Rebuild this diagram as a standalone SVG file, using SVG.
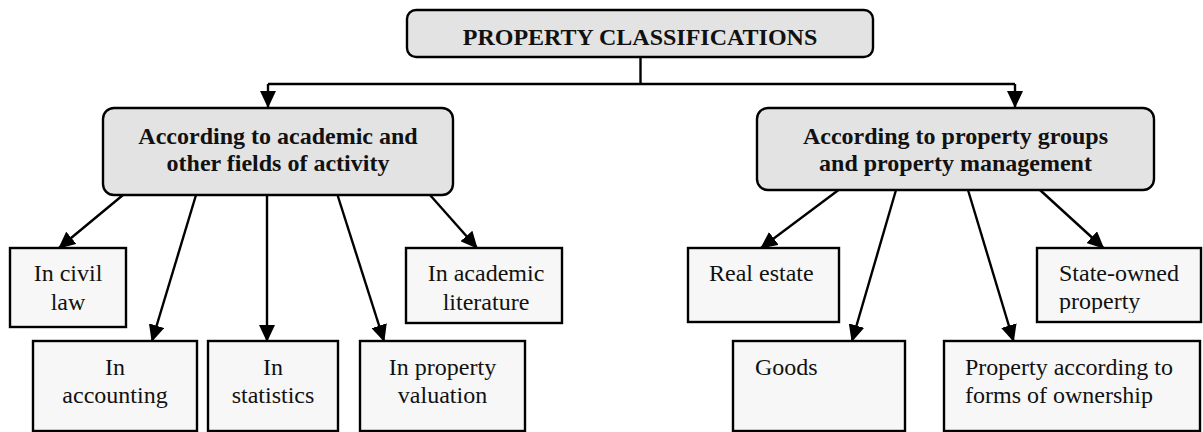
<svg xmlns="http://www.w3.org/2000/svg" width="1203" height="432" viewBox="0 0 1203 432">
<style>
.hdr{fill:#e3e3e3;stroke:#000;stroke-width:2.4}
.leaf{fill:#f7f7f7;stroke:#000;stroke-width:2.4}
.b{font-family:"Liberation Serif","Times New Roman",serif;font-weight:bold;font-size:24px;fill:#111;text-anchor:middle}
.r{font-family:"Liberation Serif","Times New Roman",serif;font-size:24px;fill:#111}
.c{text-anchor:middle}
.ln{fill:none;stroke:#000;stroke-width:2.4}
</style>
<defs>
<marker id="ah" markerUnits="userSpaceOnUse" markerWidth="17" markerHeight="16" refX="16" refY="8" orient="auto">
<path d="M0,0 L17,8 L0,16 Z" fill="#000"/>
</marker>
<clipPath id="stclip"><rect x="1037" y="248" width="164" height="65"/></clipPath>
</defs>
<rect width="1203" height="432" fill="#fff"/>

<g id="connectors">
<polyline class="ln" points="640.5,57 640.5,84"/>
<polyline class="ln" points="268,84 1015,84"/>
<line class="ln" x1="268" y1="84" x2="268" y2="107" marker-end="url(#ah)"/>
<line class="ln" x1="1015" y1="84" x2="1015" y2="107" marker-end="url(#ah)"/>
<line class="ln" x1="123" y1="195" x2="59" y2="248" marker-end="url(#ah)"/>
<line class="ln" x1="196" y1="195" x2="152" y2="341" marker-end="url(#ah)"/>
<line class="ln" x1="267" y1="195" x2="267" y2="341" marker-end="url(#ah)"/>
<line class="ln" x1="337.5" y1="195" x2="384" y2="341" marker-end="url(#ah)"/>
<line class="ln" x1="430" y1="195" x2="477" y2="248" marker-end="url(#ah)"/>
<line x1="423" y1="190" x2="430" y2="195" stroke="#bbb" stroke-width="2"/>
<line class="ln" x1="838.5" y1="190" x2="761" y2="248" marker-end="url(#ah)"/>
<line class="ln" x1="896" y1="190" x2="852" y2="341" marker-end="url(#ah)"/>
<line class="ln" x1="968" y1="190" x2="1013.5" y2="341" marker-end="url(#ah)"/>
<line class="ln" x1="1040" y1="190" x2="1103.5" y2="248" marker-end="url(#ah)"/>
</g>

<g id="root">
<rect class="hdr" x="407" y="10" width="466" height="47" rx="9"/>
<text class="b" x="640" y="45">PROPERTY CLASSIFICATIONS</text>
</g>

<g id="academic">
<rect class="hdr" x="103" y="108" width="350" height="87" rx="11"/>
<text class="b" x="278" y="144">According to academic and</text>
<text class="b" x="278" y="171">other fields of activity</text>
</g>

<g id="groups">
<rect class="hdr" x="757" y="108" width="397" height="82" rx="11"/>
<text class="b" x="955.5" y="144">According to property groups</text>
<text class="b" x="955.5" y="171">and property management</text>
</g>

<g id="civil">
<rect class="leaf" x="10" y="248" width="116" height="79"/>
<text class="r c" x="68" y="281">In civil</text>
<text class="r c" x="68" y="310">law</text>
</g>

<g id="accounting">
<rect class="leaf" x="33" y="341" width="164" height="90"/>
<text class="r c" x="115" y="375">In</text>
<text class="r c" x="115" y="403">accounting</text>
</g>

<g id="statistics">
<rect class="leaf" x="208" y="341" width="130" height="90"/>
<text class="r c" x="273" y="375">In</text>
<text class="r c" x="273" y="403">statistics</text>
</g>

<g id="valuation">
<rect class="leaf" x="360" y="341" width="165" height="90"/>
<text class="r c" x="442.5" y="375">In property</text>
<text class="r c" x="442.5" y="403">valuation</text>
</g>

<g id="literature">
<rect class="leaf" x="406" y="248" width="156" height="75"/>
<text class="r c" x="486" y="281">In academic</text>
<text class="r c" x="486" y="310">literature</text>
</g>

<g id="realestate">
<rect class="leaf" x="688" y="248" width="151" height="74"/>
<text class="r" x="709" y="281">Real estate</text>
</g>

<g id="goods">
<rect class="leaf" x="733" y="341" width="172" height="90"/>
<text class="r" x="755" y="375">Goods</text>
</g>

<g id="ownership">
<rect class="leaf" x="944" y="341" width="256" height="90"/>
<text class="r" x="965" y="375">Property according to</text>
<text class="r" x="965" y="403">forms of ownership</text>
</g>

<g id="stateowned">
<rect class="leaf" x="1037" y="248" width="164" height="74"/>
<text class="r" x="1059" y="281">State-owned</text>
<text class="r" x="1059" y="309" clip-path="url(#stclip)">property</text>
</g>
</svg>
